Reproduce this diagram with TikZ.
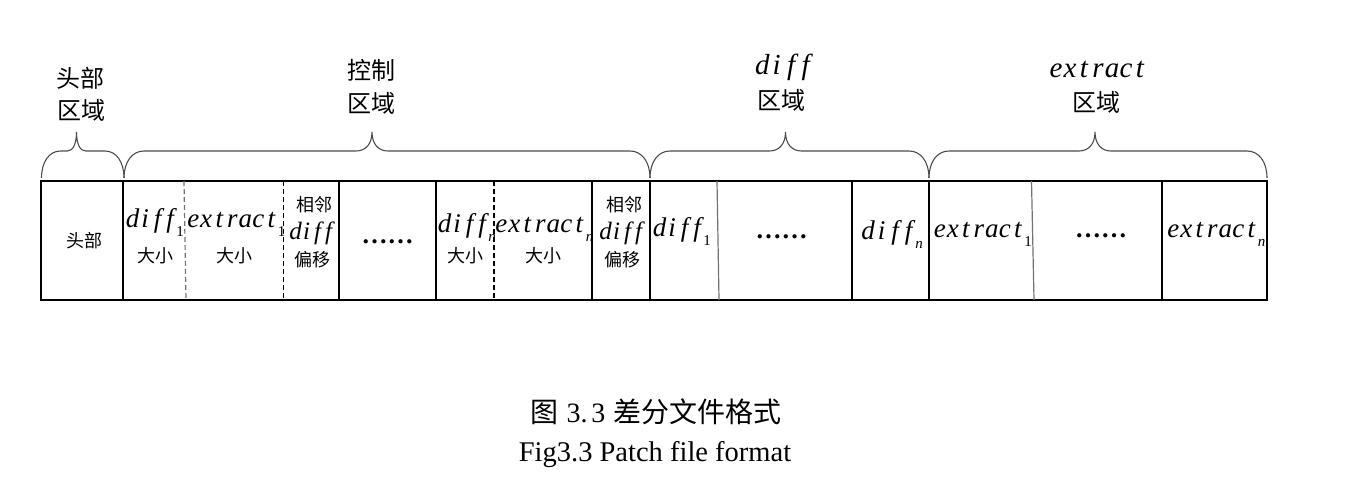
\documentclass[tikz,border=0pt]{standalone}
\usepackage{fontspec}
\setmainfont{Liberation Serif}
\newfontfamily\cjk{Noto Sans CJK SC}
\makeatletter
\newcommand\monoit[2]{{\itshape\@tfor\@ch:=#2\do{\makebox[#1]{\@ch}}}}
\makeatother
\newcommand\sbs[1]{\raisebox{-9pt}{\fontsize{15}{15}\selectfont #1}}
\newcommand\drawbrc[5]{%
  \draw[brc] (#1,178) .. controls (#1,162) and (#1+#4*0.4,151) .. (#1+#4,151)
    -- (#2-#5,151) .. controls (#2-#5*0.4,151) and (#2,144) .. (#2,132)
    .. controls (#2,144) and (#2+#5*0.4,151) .. (#2+#5,151)
    -- (#3-#4,151) .. controls (#3-#4*0.4,151) and (#3,162) .. (#3,178);}
\tikzset{
  cellline/.style={line width=1.3pt, black},
  grayline/.style={line width=1.2pt, black!55},
  dashg/.style={line width=1.2pt, black!55, dash pattern=on 5pt off 3pt},
  dashb/.style={line width=1.2pt, black, dash pattern=on 5pt off 3pt},
  brc/.style={draw=black!70, line width=1.1pt},
  toplbl/.style={font=\cjk\fontsize{24}{24}\selectfont, inner sep=0},
  topit/.style={font=\fontsize{29}{29}\selectfont, inner sep=0, anchor=base},
  smallcjk/.style={font=\cjk\fontsize{18}{18}\selectfont, inner sep=0},
  boxit/.style={font=\fontsize{27}{27}\selectfont, inner sep=0, anchor=base},
  midit/.style={font=\fontsize{25}{25}\selectfont, inner sep=0, anchor=base},
  dots/.style={font=\bfseries\fontsize{26}{26}\selectfont, inner sep=0, anchor=base},
}
\begin{document}
\begin{tikzpicture}[x=1pt,y=-1pt]
\useasboundingbox (0,0) rectangle (1351,481);
% braces
\drawbrc{41.5}{76.5}{124}{19}{9}
\drawbrc{124}{372}{650}{20}{16}
\drawbrc{650}{785.5}{929}{20}{16}
\drawbrc{929}{1095}{1267}{20}{16}
% top labels
\node[toplbl] (h1) at (80,78) {头部};
\node[toplbl] (h2) at (81,110) {区域};
\node[toplbl] (c1) at (371.5,70) {控制};
\node[toplbl] (c2) at (371.5,103) {区域};
\node[topit] (d1) at (784,75) {\monoit{14.5pt}{diff}};
\node[toplbl] (d2) at (781.5,100) {区域};
\node[topit] (e1) at (1098,78) {\monoit{14pt}{extract}};
\node[toplbl] (e2) at (1096,102.5) {区域};
% outer box and separators
\draw[cellline] (41,181) rectangle (1267,300);
\foreach \xx in {123,339,436,592,650,852,929,1162}
  \draw[cellline] (\xx,181) -- (\xx,300);
\draw[dashg] (184,181) -- (186,300);
\draw[dashb] (283.5,181) -- (283.5,300);
\draw[dashb] (494,181) -- (494,300);
\draw[grayline] (717,181) -- (719,300);
\draw[grayline] (1031.5,181) -- (1034,300);
% cell texts
\node[smallcjk] (t0) at (84.5,241) {头部};
\node[boxit] (t1) at (155,227) {\monoit{12.5pt}{diff}\sbs{1}};
\node[smallcjk] (t1b) at (155.5,256) {大小};
\node[boxit] (t2) at (236,227) {\monoit{13pt}{extract}\sbs{1}};
\node[smallcjk] (t2b) at (234.5,256) {大小};
\node[smallcjk] (t3a) at (314,205) {相邻};
\node[midit] (t3b) at (312,239) {\monoit{11pt}{diff}};
\node[smallcjk] (t3c) at (312.5,260) {偏移};
\node[dots] (t4) at (387.5,243) {……};
\node[boxit] (t5) at (467,233) {\monoit{12.5pt}{diff}\sbs{\itshape n}};
\node[smallcjk] (t5b) at (465.5,256) {大小};
\node[boxit] (t6) at (544,233) {\monoit{13pt}{extract}\sbs{\itshape n}};
\node[smallcjk] (t6b) at (543.5,256) {大小};
\node[smallcjk] (t7a) at (624,205) {相邻};
\node[midit] (t7b) at (622,239) {\monoit{11pt}{diff}};
\node[smallcjk] (t7c) at (622.5,260) {偏移};
\node[boxit] (t8) at (682,236.7) {\monoit{12.5pt}{diff}\sbs{1}};
\node[dots] (t9) at (781.5,238) {……};
\node[boxit] (t10) at (892,239) {\monoit{13.5pt}{diff}\sbs{\itshape n}};
\node[boxit] (t11) at (982.5,237) {\monoit{13pt}{extract}\sbs{1}};
\node[dots] (t12) at (1101,237) {……};
\node[boxit] (t13) at (1216,237) {\monoit{13pt}{extract}\sbs{\itshape n}};
% caption
\node[inner sep=0, font=\fontsize{28}{28}\selectfont] (cap1) at (656,412)
  {{\cjk 图}\hspace{8pt}3.\hspace{4pt}3\hspace{8pt}{\cjk 差分文件格式}};
\node[inner sep=0, font=\fontsize{28.5}{28.5}\selectfont] (cap2) at (655,455)
  {Fig3.3 Patch file format};
\end{tikzpicture}
\end{document}
